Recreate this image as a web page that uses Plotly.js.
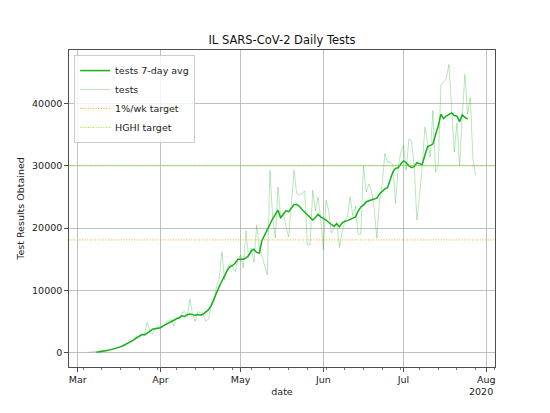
<!DOCTYPE html>
<html>
<head>
<meta charset="utf-8">
<script src="https://cdn.plot.ly/plotly-3.0.1.min.js"></script>
<style>html,body{margin:0;padding:0;background:#fff}#chart{width:550px;height:413px}</style>
</head>
<body>
<div id="chart"></div>
<script>
// Daily tests, starting 2020-03-05
const testsStart = '2020-03-05';
const testsMar = [50, 100, 80, 150, 150, 200, 250, 300, 350, 500, 600, 800, 900, 1100, 1400, 1500, 1800, 2100, 2600, 2200, 2900, 3000, 4900, 3500, 2900, 3700, 4400];
const testsApr = [4000, 4200, 4800, 5100, 5300, 4300, 5600, 5400, 6400, 6600, 5700, 8600, 6200, 5000, 6600, 6400, 6000, 5000, 5400, 7400, 8200, 10600, 12000, 16200, 11700, 13500, 14300, 13800, 13000, 14800];
const testsMay = [15700, 13600, 19600, 15300, 16800, 14500, 20500, 17000, 15500, 14000, 12500, 29300, 21800, 18400, 26600, 21800, 22500, 20200, 18600, 23800, 29300, 25500, 25300, 25500, 26000, 17300, 17300, 26100, 22800, 25000, 21500];
const testsJun = [16500, 24500, 22800, 19200, 20000, 21000, 16900, 19300, 21000, 21800, 25000, 22000, 23500, 19000, 19000, 30000, 25800, 27100, 26000, 23300, 18400, 24500, 27000, 32000, 30600, 30600, 30200, 24000, 29800, 32200];
const testsJul = [33300, 29300, 34300, 34100, 30000, 21300, 25300, 30000, 36200, 33900, 31400, 38900, 29000, 30000, 42900, 43400, 44000, 46300, 39700, 32200, 36900, 30000, 38000, 44700, 38300, 41000, 31000, 28500];

// 7-day average, starting 2020-03-08
const avgStart = '2020-03-08';
const avgMar = [50, 150, 200, 250, 320, 420, 520, 620, 750, 920, 1100, 1320, 1530, 1800, 2050, 2350, 2700, 2900, 2850, 3100, 3400, 3750, 3800, 3900];
const avgApr = [4000, 4300, 4500, 4700, 5000, 5200, 5450, 5600, 5900, 5800, 6100, 6200, 6100, 6000, 6100, 6000, 6200, 6500, 6900, 7600, 8700, 9600, 10600, 11500, 12400, 13200, 13800, 14000, 14400, 15000];
const avgMay = [15000, 15000, 15200, 15600, 16300, 16600, 16100, 16000, 18000, 18900, 19700, 20500, 21500, 22200, 22900, 21600, 22300, 22800, 22600, 23200, 23800, 23800, 23500, 23000, 22600, 22200, 21800, 21300, 21700, 22200, 21800];
const avgJun = [21600, 21300, 20900, 20600, 20300, 20700, 20200, 20800, 21100, 21200, 21400, 21600, 21800, 22700, 23400, 23700, 24200, 24400, 24500, 24600, 24800, 25500, 25900, 26300, 26500, 27600, 29000, 29600, 29700, 30300];
const avgJul = [30800, 30500, 30000, 29700, 29900, 30500, 30300, 30200, 31700, 33100, 33300, 33500, 35000, 36400, 38300, 37600, 38000, 38200, 38500, 38100, 38000, 37100, 38200, 37800, 37500];

// Targets
const target1pct = 18100;
const targetHGHI = 30000;

const yTicks = [0, 10000, 20000, 30000, 40000];
const monthTicks = ['2020-03-01', '2020-04-01', '2020-05-01', '2020-06-01', '2020-07-01', '2020-08-01'];
const monthLabels = ['Mar', 'Apr', 'May', 'Jun', 'Jul', 'Aug'];

function dateSeq(start, n) {
  const out = [];
  const d0 = new Date(start + 'T00:00:00Z');
  for (let i = 0; i < n; i++) {
    const d = new Date(d0.getTime() + i * 86400000);
    out.push(d.toISOString().slice(0, 10));
  }
  return out;
}

const tests = [].concat(testsMar, testsApr, testsMay, testsJun, testsJul);
const avg = [].concat(avgMar, avgApr, avgMay, avgJun, avgJul);
const testsDates = dateSeq(testsStart, tests.length);
const avgDates = dateSeq(avgStart, avg.length);

const font = 'DejaVu Sans, Liberation Sans, sans-serif';
const axisCol = '#222';
const gridCol = '#b0b0b0';

const traces = [
  {x: avgDates, y: avg, type: 'scatter', mode: 'lines', name: 'tests 7-day avg',
   line: {color: '#15b01a', width: 1.5}, legendrank: 1},
  {x: testsDates, y: tests, type: 'scatter', mode: 'lines', name: 'tests',
   line: {color: 'rgba(21,176,26,0.3)', width: 1}, legendrank: 2}
];

const layout = {
  width: 550, height: 413,
  margin: {l: 69, r: 55, t: 50, b: 46, pad: 0},
  paper_bgcolor: '#fff', plot_bgcolor: '#fff',
  font: {family: font, size: 9.5, color: axisCol},
  title: {text: 'IL SARS-CoV-2 Daily Tests', font: {family: font, size: 11.5, color: '#111'},
          x: 0.5, xref: 'paper', xanchor: 'center', y: 1 - 40/413, yref: 'container', yanchor: 'middle'},
  showlegend: true,
  legend: {x: 0.012, y: 0.984, xanchor: 'left', yanchor: 'top',
           bgcolor: 'rgba(255,255,255,0.8)', bordercolor: '#cccccc', borderwidth: 1,
           font: {family: font, size: 9.5, color: axisCol}, tracegroupgap: 0},
  xaxis: {
    type: 'date',
    range: ['2020-02-26 18:00', '2020-08-04 06:00'],
    tickmode: 'array', tickvals: monthTicks, ticktext: monthLabels,
    ticks: 'outside', ticklen: 4, tickwidth: 0.8, tickcolor: axisCol,
    showgrid: true, gridcolor: gridCol, gridwidth: 0.8,
    showline: true, linecolor: axisCol, linewidth: 0.8, mirror: true,
    zeroline: false,
    tickfont: {family: font, size: 9.5, color: axisCol},
    minor: {ticks: 'outside', ticklen: 2, tickwidth: 0.6, tickcolor: axisCol,
            dtick: 7 * 86400000, tick0: '2020-03-03', showgrid: false},
    title: {text: 'date', font: {family: font, size: 9.5, color: axisCol}, standoff: 4}
  },
  yaxis: {
    range: [-2315, 48615],
    tickmode: 'array', tickvals: yTicks, ticktext: yTicks.map(String),
    ticks: 'outside', ticklen: 4, tickwidth: 0.8, tickcolor: axisCol,
    showgrid: true, gridcolor: gridCol, gridwidth: 0.8,
    showline: true, linecolor: axisCol, linewidth: 0.8, mirror: true,
    zeroline: false,
    tickfont: {family: font, size: 9.5, color: axisCol},
    title: {text: 'Test Results Obtained', font: {family: font, size: 9.5, color: axisCol}, standoff: 5}
  },
  shapes: [
    {type: 'line', xref: 'paper', x0: 0, x1: 1, yref: 'y', y0: target1pct, y1: target1pct,
     line: {color: '#ffa500', width: 1, dash: '1px,1.6px'}, showlegend: true, name: '1%/wk target', legendrank: 3, layer: 'above'},
    {type: 'line', xref: 'paper', x0: 0, x1: 1, yref: 'y', y0: targetHGHI, y1: targetHGHI,
     line: {color: '#7cfc00', width: 1, dash: '1px,1.6px'}, showlegend: true, name: 'HGHI target', legendrank: 4, layer: 'above'}
  ],
  annotations: [
    {text: '2020', xref: 'paper', yref: 'paper', x: 1, y: -(391 - 367) / 317,
     xanchor: 'right', yanchor: 'middle', showarrow: false,
     font: {family: font, size: 9.5, color: axisCol}}
  ]
};

Plotly.newPlot('chart', traces, layout, {staticPlot: true, displayModeBar: false});
</script>
</body>
</html>
